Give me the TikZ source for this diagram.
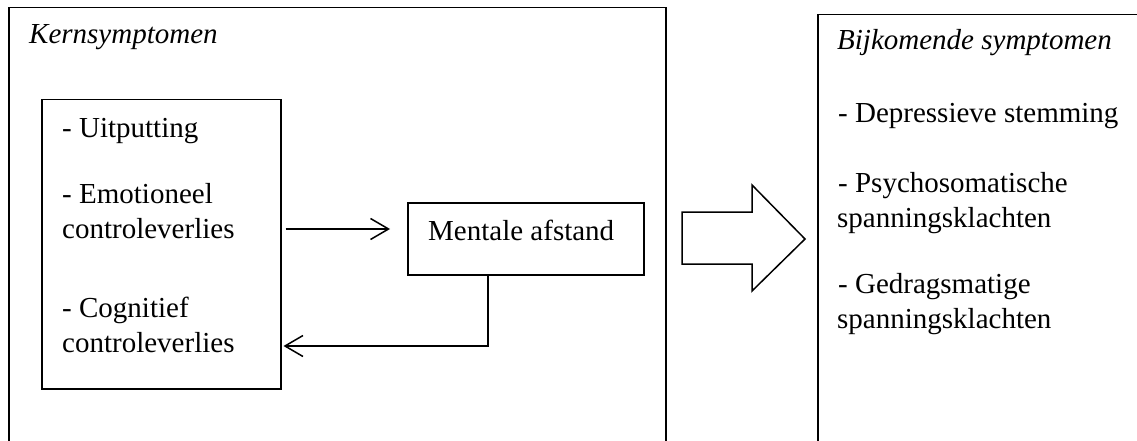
\documentclass[tikz,border=0pt]{standalone}
\usepackage{fontspec}
\setmainfont{Liberation Serif}
\usetikzlibrary{arrows.meta}
\tikzset{
  box/.style={draw=black, line width=1.5pt, inner sep=0pt, anchor=north west},
  txt/.style={anchor=base west, inner sep=0pt, font=\fontsize{29}{35}\selectfont},
  ititle/.style={txt, font=\fontsize{29}{35}\selectfont\itshape},
  arr/.style={line width=1.5pt, -{Straight Barb[length=18pt,width=21pt,line width=1.5pt]}},
}
\begin{document}
\begin{tikzpicture}[x=1pt,y=-1pt]
\useasboundingbox (0,0) rectangle (1137,441);
\clip (0,0) rectangle (1137,441);
\fill[white] (0,0) rectangle (1137,441);
% outer boxes
\node[box, minimum width=657pt, minimum height=450pt] (kern) at (8,7) {};
\node[box, minimum width=340pt, minimum height=450pt] (bijk) at (817,14) {};
% inner boxes
\node[box, minimum width=239pt, minimum height=289pt] (core) at (41,99) {};
\node[box, minimum width=236pt, minimum height=72pt] (ment) at (407,202) {};
% titles
\node[ititle] (t1) at (29,44) {Kernsymptomen};
\node[ititle] (t2) at (837,50) {Bijkomende symptomen};
% core texts
\node[txt] (c1) at (62,137) {- Uitputting};
\node[txt] (c2) at (62,203) {- Emotioneel};
\node[txt] (c3) at (62,238) {controleverlies};
\node[txt] (c4) at (62,317) {- Cognitief};
\node[txt] (c5) at (62,352) {controleverlies};
% mentale afstand
\node[txt] (m1) at (428,240) {Mentale afstand};
% right texts
\node[txt] (r1) at (838,122) {- Depressieve stemming};
\node[txt] (r2) at (838,192) {- Psychosomatische};
\node[txt] (r3) at (837,227) {spanningsklachten};
\node[txt] (r4) at (838,293) {- Gedragsmatige};
\node[txt] (r5) at (837,328) {spanningsklachten};
% arrows
\draw[arr, shorten <=4pt, shorten >=17pt] (core.east |- 0,229) -- (ment.west |- 0,229);
\draw[arr, shorten >=2pt] ([xshift=-38pt]ment.south) |- (core.east |- 0,346);
% block arrow
\draw[line width=1.5pt, line join=miter, fill=white]
  (682,212) -- (752,212) -- (752,185) -- (805,239) -- (752,291) -- (752,264) -- (682,264) -- cycle;
\end{tikzpicture}
\end{document}
